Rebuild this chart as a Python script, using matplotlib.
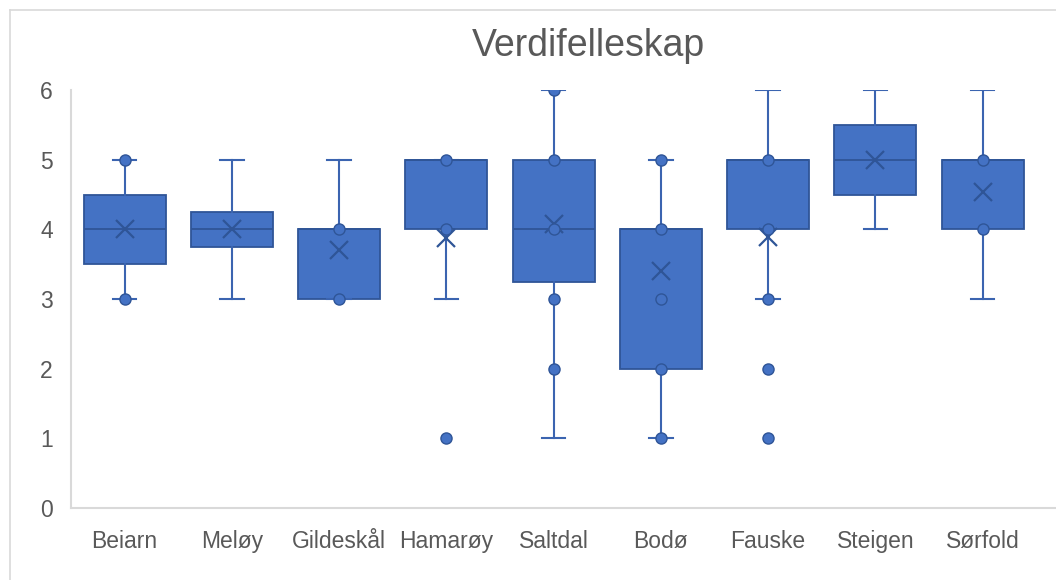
import matplotlib.pyplot as plt
from matplotlib.lines import Line2D

plt.rcParams['font.family'] = ['Liberation Sans', 'DejaVu Sans']

# categories and box statistics
categories = ['Beiarn', 'Meløy', 'Gildeskål', 'Hamarøy', 'Saltdal', 'Bodø', 'Fauske', 'Steigen', 'Sørfold']
whisker_low = [3, 3, 3, 3, 1, 1, 3, 4, 3]
q1 = [3.5, 3.75, 3, 4, 3.25, 2, 4, 4.5, 4]
median = [4, 4, 4, 5, 4, 4, 5, 5, 5]
q3 = [4.5, 4.25, 4, 5, 5, 4, 5, 5.5, 5]
whisker_high = [5, 5, 5, 5, 6, 5, 6, 6, 6]
mean = [4.0, 4.0, 3.71, 3.88, 4.07, 3.4, 3.89, 5.0, 4.54]
# inner points and outliers shown as dots
points = [
    [3, 5],
    [],
    [3, 4],
    [1, 4, 5],
    [2, 3, 4, 5, 6],
    [1, 2, 3, 4, 5],
    [1, 2, 3, 4, 5],
    [],
    [4, 5],
]

fill = '#4472C4'
edge = '#2F5597'
text_col = '#595959'
grid_col = '#D9D9D9'

fig = plt.figure(figsize=(10.56, 5.8), dpi=100)
ax = fig.add_axes([71 / 1056, 1 - 508 / 580, (1056 - 71) / 1056, 418 / 580])

stats = []
for i, name in enumerate(categories):
    stats.append({
        'label': name,
        'whislo': whisker_low[i],
        'q1': q1[i],
        'med': median[i],
        'q3': q3[i],
        'whishi': whisker_high[i],
        'mean': mean[i],
        'fliers': [],
    })

pos = list(range(len(categories)))
ax.bxp(stats, positions=pos, widths=0.765, capwidths=0.22,
       patch_artist=True, showmeans=True, showfliers=False,
       boxprops=dict(facecolor=fill, edgecolor=edge, linewidth=1.3),
       whiskerprops=dict(color='#3B64B0', linewidth=1.5),
       capprops=dict(color='#3B64B0', linewidth=1.5),
       medianprops=dict(color=edge, linewidth=1.3),
       meanprops=dict(marker='x', markersize=13, markeredgecolor=edge,
                      markeredgewidth=1.6, linestyle='none'),
       zorder=2)

for i, pts in enumerate(points):
    ax.plot([i] * len(pts), pts, 'o', markersize=8, markerfacecolor=fill,
            markeredgecolor=edge, markeredgewidth=1.0, zorder=4, linestyle='none')

ax.set_xlim(-0.5, (1056 - 71) / 107.25 - 0.5)
ax.set_ylim(0, 6)
ax.set_yticks(range(0, 7))
ax.set_xticks(pos)
ax.set_xticklabels(categories)
ax.tick_params(axis='both', length=0, labelsize=16.5, labelcolor=text_col)
ax.tick_params(axis='y', pad=13)
ax.tick_params(axis='x', pad=16)
for s in ['top', 'right']:
    ax.spines[s].set_visible(False)
for s in ['left', 'bottom']:
    ax.spines[s].set_color(grid_col)
    ax.spines[s].set_linewidth(1.5)

# chart border and title
fig.add_artist(Line2D([10 / 1056, 10 / 1056], [0, 1 - 10 / 580], color=grid_col, lw=1.2, transform=fig.transFigure))
fig.add_artist(Line2D([10 / 1056, 1], [1 - 10 / 580, 1 - 10 / 580], color=grid_col, lw=1.2, transform=fig.transFigure))
fig.text(588 / 1056, 1 - 46 / 580, 'Verdifelleskap', ha='center', va='center', fontsize=27, color=text_col)

fig.savefig('out.png', dpi=100)
